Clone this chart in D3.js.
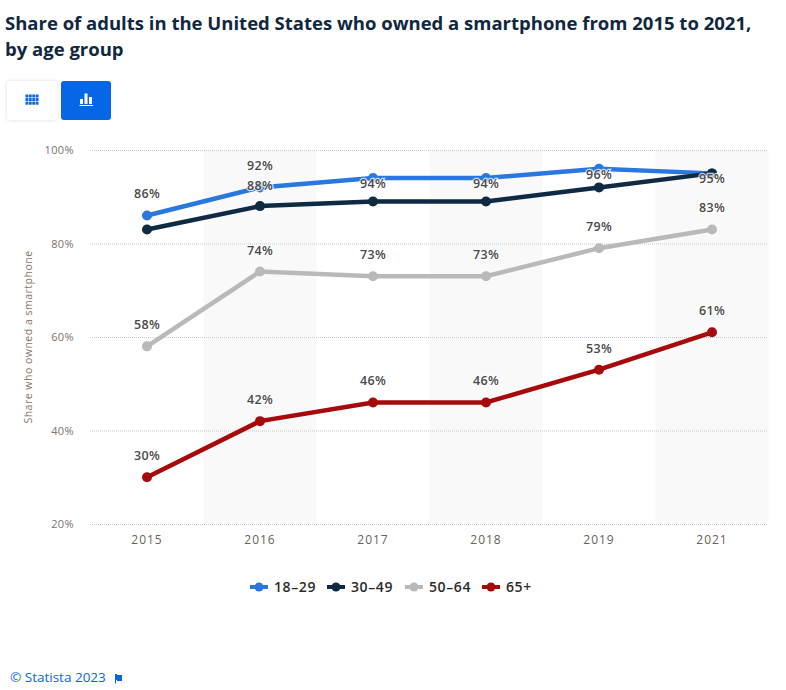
<!DOCTYPE html>
<html>
<head>
<meta charset="utf-8">
<script src="https://cdn.jsdelivr.net/npm/d3@7"></script>
<style>
body { margin: 0; background: #fff; }
text { font-family: "Open Sans", sans-serif; }
</style>
</head>
<body>
<svg id="chart" width="786" height="690"></svg>
<script>
var years = ["2015", "2016", "2017", "2018", "2019", "2021"];
var yTicks = [20, 40, 60, 80, 100];
var legendNames = ["18–29", "30–49", "50–64", "65+"];
var colors = ["#2a77e0", "#0f2a43", "#b9b9b9", "#a60a0a"];
var values1829 = [86, 92, 94, 94, 96, 95];
var values3049 = [83, 88, 89, 89, 92, 95];
var values5064 = [58, 74, 73, 73, 79, 83];
var values65 = [30, 42, 46, 46, 53, 61];
var allValues = [values1829, values3049, values5064, values65];

var svg = d3.select("#chart");

var x = d3.scaleBand().domain(years).range([90.5, 768.5]);
var y = d3.scaleLinear().domain([20, 100]).range([524, 150]);

// title
var title = svg.append("g").attr("fill", "#10283f")
    .style("font-size", "18.5px").style("font-weight", 700);
title.append("text").attr("x", 5).attr("y", 30)
    .text("Share of adults in the United States who owned a smartphone from 2015 to 2021,");
title.append("text").attr("x", 5).attr("y", 56).text("by age group");

// buttons
svg.append("rect").attr("x", 7).attr("y", 81).attr("width", 50).attr("height", 39).attr("rx", 3)
    .attr("fill", "#fff").style("filter", "drop-shadow(0 0 2px rgba(0,0,0,0.12))");
svg.append("rect").attr("x", 61).attr("y", 81).attr("width", 50).attr("height", 39).attr("rx", 3)
    .attr("fill", "#0666e5");
var gridIcon = svg.append("g").attr("fill", "#0666e5");
d3.range(3).forEach(function(r) {
    d3.range(4).forEach(function(c) {
        gridIcon.append("rect").attr("x", 25.5 + c * 3.4).attr("y", 94.5 + r * 3.6)
            .attr("width", 2.8).attr("height", 3);
    });
});
var barIcon = svg.append("g").attr("fill", "#fff");
barIcon.append("rect").attr("x", 80).attr("y", 99).attr("width", 3).attr("height", 5);
barIcon.append("rect").attr("x", 84.5).attr("y", 93.5).attr("width", 3).attr("height", 10.5);
barIcon.append("rect").attr("x", 89).attr("y", 97).attr("width", 3).attr("height", 7);
barIcon.append("rect").attr("x", 79.5).attr("y", 105).attr("width", 13.5).attr("height", 1);

// alternating bands
svg.selectAll("rect.band").data(years.filter(function(d, i) { return i % 2 == 1; }))
    .enter().append("rect").attr("class", "band")
    .attr("x", function(d) { return x(d); })
    .attr("y", y(100))
    .attr("width", x.bandwidth())
    .attr("height", y(20) - y(100))
    .attr("fill", "#f9f9f9");

// y axis + dotted grid
var yAxis = svg.append("g").attr("transform", "translate(90,0)")
    .call(d3.axisLeft(y).tickValues(yTicks).tickSize(0).tickPadding(16)
        .tickFormat(function(d) { return d + "%"; }));
yAxis.select(".domain").remove();
yAxis.selectAll("text").attr("fill", "#7d7168").style("font-size", "11px")
    .style("font-family", "'Open Sans', sans-serif").style("letter-spacing", "0.4px");
yAxis.selectAll("line").attr("x2", 678).attr("stroke", "#c9c9c9").attr("stroke-dasharray", "1,1");

// x axis
var xAxis = svg.append("g").attr("transform", "translate(0,524)")
    .call(d3.axisBottom(x).tickSize(0).tickPadding(11));
xAxis.select(".domain").remove();
xAxis.selectAll("text").attr("fill", "#6b5f58").style("font-size", "12px")
    .style("font-family", "'Open Sans', sans-serif").style("letter-spacing", "1px");

// y axis title
svg.append("text").attr("transform", "translate(32,337) rotate(-90)")
    .attr("text-anchor", "middle").attr("fill", "#8a7468")
    .style("font-size", "10.5px").style("letter-spacing", "0.5px")
    .text("Share who owned a smartphone");

// lines
var line = d3.line()
    .x(function(d, i) { return x(years[i]) + x.bandwidth() / 2; })
    .y(function(d) { return y(d); });

allValues.forEach(function(vals, s) {
    var g = svg.append("g");
    g.append("path").datum(vals).attr("d", line)
        .attr("fill", "none").attr("stroke", colors[s]).attr("stroke-width", 4.5);
    g.selectAll("circle").data(vals).enter().append("circle")
        .attr("cx", function(d, i) { return x(years[i]) + x.bandwidth() / 2; })
        .attr("cy", function(d) { return y(d); })
        .attr("r", 5)
        .attr("fill", colors[s]);
});

// data labels
function addLabel(s, i, dy) {
    svg.append("text")
        .attr("x", x(years[i]) + x.bandwidth() / 2)
        .attr("y", y(allValues[s][i]) + dy)
        .attr("text-anchor", "middle")
        .attr("fill", "#4a4a4a")
        .attr("stroke", "rgba(255,255,255,0.75)").attr("stroke-width", 2.5)
        .attr("paint-order", "stroke")
        .style("font-size", "12.5px").style("font-weight", 600)
        .style("letter-spacing", "0.3px")
        .text(allValues[s][i] + "%");
}
// 30-49 only keeps its 2016 label, the others collide
addLabel(1, 1, -16);
allValues[0].forEach(function(v, i) { addLabel(0, i, i < 2 ? -17 : 10); });
allValues[2].forEach(function(v, i) { addLabel(2, i, -17); });
allValues[3].forEach(function(v, i) { addLabel(3, i, -17); });

// legend
var legendX = [250, 327, 405, 482];
var legend = svg.selectAll("g.legend").data(legendNames).enter().append("g")
    .attr("class", "legend")
    .attr("transform", function(d, i) { return "translate(" + legendX[i] + ",587)"; });
legend.append("line").attr("x1", 0).attr("x2", 18)
    .attr("stroke", function(d, i) { return colors[i]; }).attr("stroke-width", 4);
legend.append("circle").attr("cx", 9).attr("r", 4.5)
    .attr("fill", function(d, i) { return colors[i]; });
legend.append("text").attr("x", 24).attr("y", 5).attr("fill", "#2b2b2b")
    .style("font-size", "14px").style("font-weight", 600).style("letter-spacing", "0.6px")
    .text(function(d) { return d; });

// credit
svg.append("text").attr("x", 10).attr("y", 682).attr("fill", "#0666e5")
    .style("font-size", "13.5px").text("© Statista 2023");
svg.append("path").attr("d", "M115,674 h2 v1 h5 v6 h-5 v-1 h-1 v3.5 h-1 z")
    .attr("fill", "#0666e5");
</script>
</body>
</html>
